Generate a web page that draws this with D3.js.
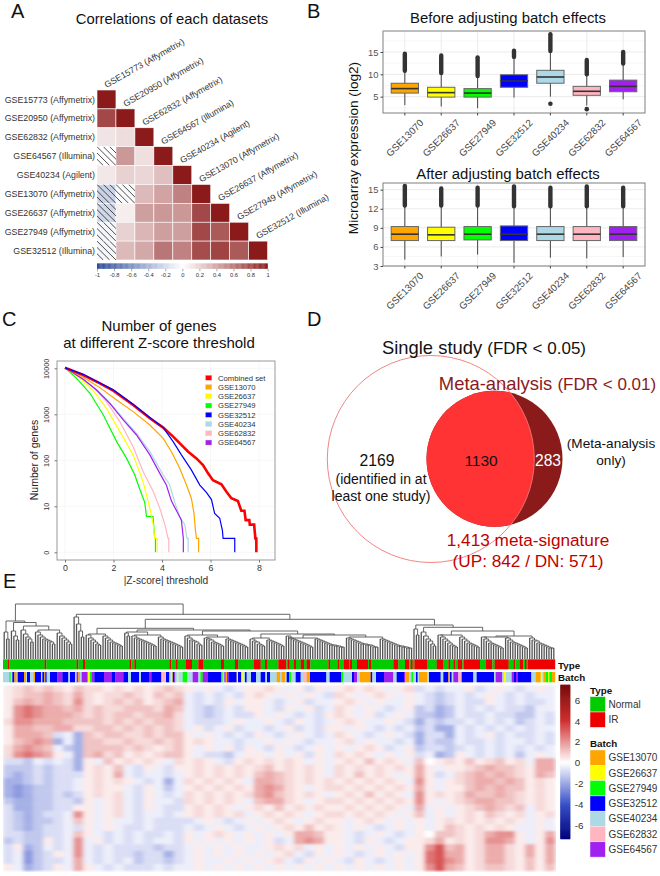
<!DOCTYPE html>
<html><head><meta charset="utf-8">
<script src="https://cdn.jsdelivr.net/npm/d3@7"></script>
<style>html,body{margin:0;padding:0;background:#fff}svg{display:block}text{font-family:"Liberation Sans",Arial,sans-serif}</style>
</head><body><svg id="c" width="660" height="876"></svg>
<script>
// ---------- Panel A data ----------
const corrLabels=["GSE15773 (Affymetrix)","GSE20950 (Affymetrix)","GSE62832 (Affymetrix)","GSE64567 (Illumina)","GSE40234 (Agilent)","GSE13070 (Affymetrix)","GSE26637 (Affymetrix)","GSE27949 (Affymetrix)","GSE32512 (Illumina)"];
const corrValues=[[1],[.8,1],[.12,.15,1],[0,.45,.14,1],[.1,.2,.18,.28,1],[-.25,-.03,.3,.4,.55,1],[-.22,.08,.42,.45,.45,.8,1],[-.05,.2,.32,.42,.42,.8,.72,1],[-.05,.3,.38,.6,.55,.78,.82,.72,1]];
const corrHatched=[[3,0],[5,0],[5,1],[6,0],[7,0],[8,0]];
const corrTicks=[-1,-.8,-.6,-.4,-.2,0,.2,.4,.6,.8,1];
// ---------- Panel B data ----------
const batches=["GSE13070","GSE26637","GSE27949","GSE32512","GSE40234","GSE62832","GSE64567"];
const batchColors=["#ffa500","#ffff00","#00ff00","#0000ff","#add8e6","#ffb6c1","#a020f0"];
const beforeLow=[3.1,2.8,2.4,4.8,5.0,3.0,4.4], beforeQ1=[5.8,4.9,4.9,7.1,8.0,5.3,6.1], beforeMed=[6.8,5.9,5.8,8.5,9.4,6.2,7.3], beforeQ3=[8.0,7.1,6.8,9.9,10.9,7.3,8.7], beforeHigh=[10.8,10.3,9.6,13.9,15.2,10,12.4], beforeTop=[14.6,14.2,13.8,15.3,19,13.2,15];
const beforeLowOutlier=[null,null,null,null,3.4,2.2,null];
const afterLow=[4,4.5,4.8,3.5,4.3,4.2,4.4], afterQ1=[7,7,7.1,7,7,7,7], afterMed=[8,7.9,8,8,8,8,8], afterQ3=[9.2,9.1,9.2,9.3,9.2,9.2,9.2], afterHigh=[12.5,12.5,12.5,12.4,12.4,12.4,12.4], afterTop=[15.6,15.2,15.3,15.5,15.3,15.5,15.3];
// ---------- Panel C data ----------
const curveNames=["Combined set"].concat(batches);
const curveColors=["#ff0000"].concat(batchColors);
const zCombined=[[0,10300],[.75,7160],[1.44,4720],[1.99,3270],[2.81,1596],[3.5,819],[4.05,513],[4.46,327],[4.87,198],[5.08,154],[5.42,110],[5.69,79],[5.9,52],[6.1,37],[6.45,30],[6.65,21],[6.86,15],[7.13,13],[7.27,8],[7.4,8],[7.45,5],[7.6,5],[7.62,4],[7.8,4],[7.82,3],[7.85,2],[7.89,2],[7.89,1]];
const z13070=[[0,10300],[.75,6370],[1.44,3800],[2.13,2050],[2.81,1143],[3.5,586],[4.05,300],[4.39,154],[4.73,67],[5.01,29],[5.21,15],[5.32,7],[5.38,3],[5.42,2],[5.51,2],[5.51,1]];
const z26637=[[0,10300],[.62,6060],[1.17,3270],[1.71,1350],[2.26,420],[2.81,131],[3.22,34],[3.5,9],[3.64,4],[3.7,2],[3.8,2],[3.8,1]];
const z27949=[[0,10300],[.48,6060],[1.03,2860],[1.58,968],[2.13,255],[2.54,110],[2.88,48],[3.02,29],[3.29,12],[3.36,6],[3.63,6],[3.7,2],[3.73,2],[3.73,1]];
const z32512=[[0,10300],[.75,7400],[1.44,4800],[1.99,3400],[2.81,1650],[3.5,850],[4.05,513],[4.46,255],[4.8,131],[5.21,62],[5.56,29],[5.83,20],[6.04,14],[6.17,7],[6.38,5.5],[6.49,3],[6.52,2],[7,2],[7,1]];
const z40234=[[0,10300],[.75,5770],[1.3,3490],[1.85,1790],[2.4,819],[2.95,386],[3.5,154],[4.05,48],[4.32,29],[4.53,12],[4.73,6],[4.94,4],[5.03,2],[5.08,2],[5.08,1]];
const z62832=[[0,10300],[.62,6370],[1.17,3860],[1.71,1890],[2.26,693],[2.81,198],[3.22,57],[3.64,21],[3.91,9],[4.12,4],[4.25,2],[4.28,2],[4.28,1]];
const z64567=[[0,10300],[.75,5770],[1.3,3380],[1.85,1730],[2.4,753],[2.95,355],[3.5,131],[3.91,52],[4.18,29],[4.39,13],[4.6,8],[4.8,5],[4.88,2],[4.88,1]];
const zCurves=[zCombined,z13070,z26637,z27949,z32512,z40234,z62832,z64567];
const zDrawOrder=[3,2,6,5,7,1,0,4];
const zWidths=[2.6,1.2,1.2,1.2,1.2,1.2,1.2,1.2];
// ---------- Panel D data ----------
const vennCounts={single:2169,both:1130,meta:283};
// ---------- Panel E data ----------
const typeNames=["Normal","IR"], typeColors=["#00cc00","#ee0000"];
// sample axis; alternating Normal / IR run ends
const sampleAxisSpan=[9,1665];
const typeBreaks=[24,28,134,139,230,235,249,255,388,394,403,408,508,514,528,533,557,576,595,609,663,672,705,715,762,782,795,801,835,859,863,869,882,888,902,912,920,931,985,990,1013,1017,1032,1047,1050,1056,1071,1104,1107,1113,1180,1195,1215,1228,1232,1238,1243,1281,1310,1329,1345,1350,1360,1365,1373,1387,1392,1440,1458,1477,1484,1526,1540,1546,1559,1570,1575,1580,1584,1665];
const batchCode={O:0,Y:1,G:2,B:3,L:4,P:5,V:6};
const batchBreaks="L28 G32 L37 B43 O50 L53 B72 O78 L81 B90 L100 O105 B123 L127 B133 O136 B140 L150 B172 V187 B205 L210 B225 L230 V235 O240 L245 V263 Y270 G275 V283 B312 V335 B346 V370 B384 L393 B417 L423 B447 V454 B484 P498 B508 L513 Y518 B523 V526 L531 Y535 L548 G562 L578 V595 L601 G608 V624 B663 G668 L673 V677 O681 V686 B710 Y714 B723 L727 Y732 L735 B740 L753 B768 L782 B796 L801 B810 L830 O840 L845 O855 L860 B868 G873 L887 B902 L912 P920 O930 B979 L989 B1024 G1030 L1056 B1062 V1071 L1080 O1112 B1117 L1128 B1152 V1180 L1190 B1212 V1215 O1228 L1234 G1240 L1248 B1253 L1257 O1282 L1287 B1322 L1330 B1345 O1350 B1355 L1360 V1375 P1385 B1420 L1430 B1482 L1487 V1507 L1512 Y1517 L1535 V1542 B1548 V1554 B1594 L1607 O1622 Y1627 L1630 O1638 G1645 Y1648 G1656 O1665".split(" ");
const hmLevels={e:-2.7,d:-2.3,c:-1.8,b:-1.25,a:-.75,"-":-.38,".":0,"+":.38,"1":.72,"2":1.15,"3":1.6,"4":2.1,"5":2.7,"6":3.3};
const heatRows=[
"+12121+2|11+1+1+121|+-+-a-+|+1+-+a+-|+1+1+-+1|a-a-|-+a-+-a-+-",
"+1223213|1+1121+212|-a-a-a+|1+-+-+-a|1+-+1+-+|-aba|-a-+-a-a--",
"+2323214|1+1212+123|-a-a+-+|+-a-+a--|+1+-+--+|-aba|-aa+-a-aa-",
"+4543323|1211222132|-aba-a+|+-a+-+a-|1+-+-a-+|bacb|-a-a-aab--",
"+4543332|1212212231|-aba-aa|+-+-a-a+|1+-+a-+-|bbcb|-aa-aabb-a",
"14433322|2212121221|-aaa-+-|-+-a+-a-|+1+--+-a|caba|a-a-a-ba-a",
"+3322331|1221212121|-+a-+a-|-a-+a-a+|+-+-a-a-|bacc|-a-a-a-a--",
"+3332a-c|2122112122|+-+-a-a|+-a-+-a-|1+-a-+-a|caac|-a-+a-aa-a",
"+2343c-c|2211211212|+1+--a-|-+-+-a--|+1-+--a-|cabb|-aa-a--a-a",
"13432-bc|2222121+12|+-+-+a+|-a+-a-+-|+-+1+a-+|baab|a-a-a-a-a-",
"14543+-c|2312+1+122|+-aab-+|+-+-+a+-|1+1+-+-+|a-cb|+-a-a-b-+-",
"aab-a-ac|+-2+1+1+-1|+1+-a+1|+1+1+-+-|+1+2+1+-|2.+1|+2+12+1-33",
"bbbabaac|+1+2-a+-a+|+1+1+1+|12+1+1+-|1+1+1+1+|3+-+|+123221+33",
"bcbabaaa|+1+3-a--a-|+1+1+1+|2321+1+-|1+2+1+-+|3+a-|1232321+32",
"ccbabaa-|+1+1+-a-c-|1+1+1+-|3321+1+1|+1+1+1+-|4+-+|1233232+1+",
"cdcbbaa-|+1++-a+-b-|+1+1+1+|3431+-+1|1+1+1+1+|3+-+|+232322+1+",
"cdcbbaba|+1+1-a+-a-|1+1+1+1|3421+1+-|+1+2+1+-|4+1+|1322321+1+",
"bccbbaab|+-+1-a+--a|1+1+1+-|2331+-+1|1+1+1+1+|4+-+|1233221+1+",
"accbbaa+|+-+1-a+-aa|+1+1+-+|1+2+1+1+|+1+1+1+-|3-+-|+123212-1+",
"abcbaa-4|+-+1-a--a-|+1+1+1-|+1+1+-+1|1+1+1+-+|2-+-|+1+21+1-+1",
"abcbba-2|+-+--a-aaa|a-+-a-+|-+1+-+1+|+-+1+-+-|+-+1|+1+1+1+-+-",
"abcbaa-a|+-+-aa-aaa|-a-+-a-|+-+1+2+1|+-+-a-+-|+-+2|1+1+1+--+-",
"aabbaa-2|+-a-a-aa-a|+-+1+-+|-+-+332+|+-a-+-a-|+.22|1+1344+-+3",
"babb+a-4|-+a-a-a--a|+-+-+-+|-+a-343+|+-a+-a-+|+13+|1+1443+-+4",
"a+cb-a-4|-a-aaaabaa|-+-+-+-|-+1+1-+-|+-+-+-a+|+462|3+1331+3+3",
"a-dba+-4|-a-aabaaca|-+-+-+-|+-+1-a+-|+-a-+-+-|+563|3+1331+3+3",
"a-dbaa-3|-a-a-baaba|-+--+-+|-+1-a+-+|-a+-a-+-|+564|3+1331+2+3",
"+-cba+-3|+-a-aaa-a-|-+-+-+-|+-+-+-+-|+-+-+-+-|+463|2+1221+2+2"];
const heatTicks=[6,4,2,0,-2,-4,-6];
// dendrogram: [mergeHeight,left,right]; a leaf is 0; a ladder lists merge heights left to right
const lad=h=>h.slice().reverse().reduce((acc,v)=>[v,0,acc],0);
const dendro=[55,
 [38,lad([27,20]),[36.5,lad([28,23,19]),[33,lad([29,25,22,20,17]),[29,lad([27,24,22,20,19,18,17,15]),lad([26,23,21,19,17,15])]]]],
 [44.7,lad([42,35,28,22]),
  [39.7,
   [30.7,[25,lad([24,21,19,17,15,14]),lad([23,21,19,17,16,15,14,13])],
    [29,[27,lad([26,23]),[24,lad([23,21,20,19,18,17,16,15,14,13]),lad([22,20,19,18,17,16,15,14,13,12])]],
     [28,[24,lad([23,21,19,18,17,15,14]),[22,lad([21,20,19,17,16,15,14,13]),lad([20,19,18,17,16,15,14,13,12])]],
      [25,[21,lad([20,18,17,15,14,13]),lad([19,18,17,16,15,14,13])],
       [24,[21,lad([23,21,20,19,18,17,16,15,14,13,12]),lad([20,19,18,17,16,15,14,14,13,13,12,12])],
        [22,lad([21,20,19,18,17,16,15,15,14,14,13,12,12]),lad([20,19,18,17,16,15,14,13,13,12,12,11,11])]]]]]],
   [34,lad([30,24]),
    [31.7,lad([27,23,20,18,15,13]),
     [28,[24,lad([24,22,20,18,16,14,13,12]),lad([22,20,18,16,15,14,13,12])],
      [23,[22,lad([22,20,18,16,15,14,13,12,11]),lad([21,19,17,16,15,14,13,12,11])],
       lad([21,19,18,16,15,14,13,12,11,11])]]]]]]];

// ---------- helpers ----------
const svg=d3.select("#c");
const defs=svg.append("defs");
function T(x,y,s,size,opt={}){const t=svg.append("text").attr("x",x).attr("y",y).attr("font-size",size).attr("text-anchor",opt.a||"start").attr("fill",opt.c||"#111").text(s);
 if(opt.b)t.attr("font-weight","bold"); if(opt.r!==undefined)t.attr("transform",`rotate(${opt.r} ${x} ${y})`); return t;}
T(11,18,"A",20);T(307,17.5,"B",20);T(2,326,"C",20);T(307,326,"D",20);T(3,588,"E",20);

// ---------- Panel A ----------
(function(){
 T(172,24,"Correlations of each datasets",14.8,{a:"middle"});
 const band=d3.scaleBand().domain(d3.range(corrLabels.length));
 const bx=band.copy().range([97,267.6]),by=band.copy().range([90,260]);
 const col=d3.scaleLinear().domain([-1,0,1]).range(["#2a4a9a","#ffffff","#8b1a1a"]);
 corrValues.forEach((row,r)=>row.forEach((v,c)=>{
  svg.append("rect").attr("x",bx(c)).attr("y",by(r)).attr("width",bx.bandwidth()).attr("height",by.bandwidth()).attr("fill",col(v)).attr("stroke","#fff").attr("stroke-width",.6);
 }));
 const bw=bx.bandwidth();
 corrHatched.forEach(([r,c],k)=>{
  defs.append("clipPath").attr("id","hc"+k).append("rect").attr("x",bx(c)).attr("y",by(r)).attr("width",bw).attr("height",by.bandwidth());
  const g=svg.append("g").attr("clip-path",`url(#hc${k})`);
  [-3,-2,-1,0,1,2,3].forEach(o=>g.append("line").attr("x1",bx(c)+o*bw/3).attr("y1",by(r)).attr("x2",bx(c)+o*bw/3+bw).attr("y2",by(r)+by.bandwidth()).attr("stroke","#222").attr("stroke-width",.8));
 });
 corrLabels.forEach((s,i)=>{
  T(95,by(i)+by.bandwidth()/2+3.1,s,8.8,{a:"end",c:"#333"});
  T(bx(i)+9.5,by(i)-2,s,8.8,{c:"#333",r:-29.5});
 });
 const xc=d3.scaleLinear().domain([-1,1]).range([97,267.6]);
 d3.range(-1,1,.01).forEach(v=>svg.append("rect").attr("x",xc(v)).attr("y",263.4).attr("width",1.1).attr("height",5.4).attr("fill",col(v)));
 const g=svg.append("g").attr("transform","translate(0,268.8)").call(d3.axisBottom(xc).tickValues(corrTicks).tickFormat(d3.format("~g")).tickSize(2.5).tickPadding(2));
 g.select(".domain").remove();g.selectAll("line").attr("stroke","#555").attr("stroke-width",.5);
 g.selectAll("text").attr("font-size",5.8).attr("fill","#333").text(d=>String(d));
})();

// ---------- Panel B ----------
function boxPanel(cfg){
 const x=d3.scaleBand().domain(batches).range([383,645]).paddingInner(0).paddingOuter(0.1);
 const y=d3.scaleLinear().domain(cfg.domain).range([cfg.y1,cfg.y0]);
 const g=svg.append("g");
 cfg.minor.forEach(v=>g.append("line").attr("x1",383).attr("x2",645).attr("y1",y(v)).attr("y2",y(v)).attr("stroke","#f2f2f2").attr("stroke-width",.6));
 cfg.ticks.forEach(v=>g.append("line").attr("x1",383).attr("x2",645).attr("y1",y(v)).attr("y2",y(v)).attr("stroke","#ebebeb").attr("stroke-width",1));
 batches.forEach(b=>g.append("line").attr("x1",x(b)+x.bandwidth()/2).attr("x2",x(b)+x.bandwidth()/2).attr("y1",cfg.y0).attr("y2",cfg.y1).attr("stroke","#ebebeb").attr("stroke-width",1));
 const w=x.bandwidth()*.75;
 batches.forEach((b,i)=>{
  const cx=x(b)+x.bandwidth()/2;
  g.append("line").attr("x1",cx).attr("x2",cx).attr("y1",y(cfg.low[i])).attr("y2",y(cfg.high[i])).attr("stroke","#444").attr("stroke-width",1);
  g.append("line").attr("x1",cx).attr("x2",cx).attr("y1",y(cfg.high[i])).attr("y2",y(cfg.top[i])).attr("stroke","#333").attr("stroke-width",4.4).attr("stroke-linecap","round");
  if(cfg.lowOut&&cfg.lowOut[i]!=null)g.append("circle").attr("cx",cx).attr("cy",y(cfg.lowOut[i])).attr("r",2.3).attr("fill","#333");
  g.append("rect").attr("x",cx-w/2).attr("width",w).attr("y",y(cfg.q3[i])).attr("height",y(cfg.q1[i])-y(cfg.q3[i])).attr("fill",batchColors[i]).attr("stroke","#666").attr("stroke-width",1);
  g.append("line").attr("x1",cx-w/2).attr("x2",cx+w/2).attr("y1",y(cfg.med[i])).attr("y2",y(cfg.med[i])).attr("stroke","#333").attr("stroke-width",1.6);
 });
 g.append("rect").attr("x",383).attr("y",cfg.y0).attr("width",262).attr("height",cfg.y1-cfg.y0).attr("fill","none").attr("stroke","#7f7f7f").attr("stroke-width",1);
 if(cfg.lightTop)g.append("line").attr("x1",383).attr("x2",645).attr("y1",cfg.y0).attr("y2",cfg.y0).attr("stroke","#bdbdbd").attr("stroke-width",1.2);
 const ay=svg.append("g").attr("transform","translate(383,0)").call(d3.axisLeft(y).tickValues(cfg.ticks).tickSize(2.5).tickPadding(2));
 ay.select(".domain").remove();ay.selectAll("line").attr("stroke","#444");ay.selectAll("text").attr("font-size",9.4).attr("fill","#555");
 const ax=svg.append("g").attr("transform",`translate(0,${cfg.y1})`).call(d3.axisBottom(x).tickSize(2.5));
 ax.select(".domain").remove();ax.selectAll("line").attr("stroke","#444");
 ax.selectAll("text").attr("font-size",9.8).attr("fill","#444").attr("text-anchor","middle").attr("x",0).attr("y",25).attr("dy","0.35em").attr("transform","rotate(-45 0 25)");
 T(508,cfg.titleY,cfg.title,14.9,{a:"middle"});
}
boxPanel({title:"Before adjusting batch effects",titleY:22.5,y0:31,y1:113,domain:[1.34,19.7],ticks:[5,10,15],minor:[2.5,7.5,12.5,17.5],low:beforeLow,q1:beforeQ1,med:beforeMed,q3:beforeQ3,high:beforeHigh,top:beforeTop,lowOut:beforeLowOutlier,lightTop:true});
boxPanel({title:"After adjusting batch effects",titleY:178.5,y0:183,y1:266,domain:[3,16.05],ticks:[3,6,9,12,15],minor:[4.5,7.5,10.5,13.5],low:afterLow,q1:afterQ1,med:afterMed,q3:afterQ3,high:afterHigh,top:afterTop});
T(358,148,"Microarray expression (log2)",13.6,{a:"middle",r:-90});

// ---------- Panel C ----------
(function(){
 const L=57,R=275,Tp=361,B=560;
 const x=d3.scaleLinear().domain([0,8]).range([65,259]);
 const y=d3.scaleLog().domain([1,10000]).range([552.3,368.3]);
 [0,2,4,6,8].forEach(v=>svg.append("line").attr("x1",x(v)).attr("x2",x(v)).attr("y1",Tp).attr("y2",B).attr("stroke","#f3f3f3").attr("stroke-width",.7));
 [1,10,100,1000,10000].forEach(v=>svg.append("line").attr("x1",L).attr("x2",R).attr("y1",y(v)).attr("y2",y(v)).attr("stroke","#f3f3f3").attr("stroke-width",.7));
 const line=d3.line().x(d=>x(d[0])).y(d=>y(d[1])).curve(d3.curveLinear);
 zDrawOrder.forEach(i=>svg.append("path").attr("d",line(zCurves[i])).attr("fill","none").attr("stroke",curveColors[i]).attr("stroke-width",zWidths[i]));
 svg.append("rect").attr("x",L).attr("y",Tp).attr("width",R-L).attr("height",B-Tp).attr("fill","none").attr("stroke","#999").attr("stroke-width",1);
 const ax=svg.append("g").attr("transform",`translate(0,${B})`).call(d3.axisBottom(x).tickValues([0,2,4,6,8]).tickSize(2.5).tickPadding(2));
 ax.select(".domain").remove();ax.selectAll("line").attr("stroke","#777");ax.selectAll("text").attr("font-size",8.8).attr("fill","#333");
 const ay=svg.append("g").attr("transform",`translate(${L},0)`).call(d3.axisLeft(y).tickValues([1,10,100,1000,10000]).tickFormat(d=>d===1?"0":String(d)).tickSize(2.5));
 ay.select(".domain").remove();ay.selectAll("line").attr("stroke","#777");
 ay.selectAll("text").attr("font-size",7.3).attr("fill","#333").attr("text-anchor","middle").attr("x",0).attr("dy",0).attr("transform","translate(-8.5,0) rotate(-90)");
 T(166,584,"|Z-score| threshold",10.2,{a:"middle",c:"#333"});
 T(37.5,460,"Number of genes",10.5,{a:"middle",r:-90,c:"#222"});
 T(159,331,"Number of genes",15,{a:"middle"});T(159,348,"at different Z-score threshold",15,{a:"middle"});
 curveNames.forEach((s,i)=>{const yy=377.8+i*9.25;
  svg.append("rect").attr("x",205.5).attr("y",yy-2.5).attr("width",6.3).attr("height",5).attr("fill",curveColors[i]).attr("stroke","#ddd").attr("stroke-width",.3);
  T(218,yy+2.7,s,7.7,{c:"#333"});});
})();

// ---------- Panel D ----------
(function(){
 const r=d3.scaleSqrt().domain([0,vennCounts.both+vennCounts.meta]).range([0,68]);
 const R0=r(vennCounts.both+vennCounts.meta);
 const cxM=494.5,cyM=458.7,cxS=430.8,cyS=459,RS=103.5;
 defs.append("clipPath").attr("id","singleClip").append("circle").attr("cx",cxS).attr("cy",cyS).attr("r",RS);
 svg.append("circle").attr("cx",cxM).attr("cy",cyM).attr("r",R0).attr("fill","#8b1a1a");
 svg.append("circle").attr("cx",cxM).attr("cy",cyM).attr("r",R0).attr("fill","#ff3333").attr("clip-path","url(#singleClip)");
 svg.append("circle").attr("cx",cxS).attr("cy",cyS).attr("r",RS).attr("fill","none").attr("stroke","#ee7777").attr("stroke-width",.9);
 const t1=T(484,353.5,"",18.4,{a:"middle"});t1.append("tspan").text("Single study ");t1.append("tspan").attr("font-size",17).text("(FDR < 0.05)");
 const t2=T(547.5,389.5,"",18.4,{a:"middle",c:"#8b1a1a"});t2.append("tspan").text("Meta-analysis ");t2.append("tspan").attr("font-size",17).text("(FDR < 0.01)");
 T(377,465.5,String(vennCounts.single),15.7,{a:"middle"});
 T(381,484,"(identified in at",14,{a:"middle"});T(381,500.5,"least one study)",14,{a:"middle"});
 T(481,465.5,String(vennCounts.both),15.4,{a:"middle"});
 T(548,465.5,String(vennCounts.meta),15.6,{a:"middle",c:"#fff"});
 T(611,448,"(Meta-analysis",13.6,{a:"middle"});T(611,465,"only)",13.6,{a:"middle"});
 T(528,546,"1,413 meta-signature",17.2,{a:"middle",c:"#c00000"});
 T(528,567,"(UP: 842 / DN: 571)",17.2,{a:"middle",c:"#c00000"});
})();

// ---------- Panel E ----------
(function(){
 const X0=3,X1=555;
 // dendrogram
 let n=0;
 const segs=[];
 const yd=d3.scaleLinear().domain([0,55]).range([659,604]);
 function place(node){ if(node===0){return {x:n++,h:0};}
  const l=place(node[1]),r=place(node[2]);const h=node[0];
  segs.push([l.x,l.h,l.x,h],[r.x,r.h,r.x,h],[l.x,h,r.x,h]);
  return {x:(l.x+r.x)/2,h};}
 place(dendro);
 const xd=d3.scaleLinear().domain([-.5,n-.5]).range([X0,X1]);
 svg.append("g").selectAll("line").data(segs).join("line").attr("x1",d=>xd(d[0])).attr("x2",d=>xd(d[2])).attr("y1",d=>yd(d[1])).attr("y2",d=>yd(d[3])).attr("stroke","#555").attr("stroke-width",d=>d[1]===0&&d[0]===d[2]?1.3:.9);
 // annotation bars
 const xs=d3.scaleLinear().domain(sampleAxisSpan).range([X0,X1]);
 let pos=sampleAxisSpan[0];
 typeBreaks.forEach((e,i)=>{svg.append("rect").attr("x",xs(pos)).attr("width",xs(e)-xs(pos)+.2).attr("y",659.3).attr("height",10).attr("fill",typeColors[i%2]);pos=e;});
 pos=sampleAxisSpan[0];
 batchBreaks.forEach(s=>{const e=+s.slice(1);svg.append("rect").attr("x",xs(pos)).attr("width",xs(e)-xs(pos)+.2).attr("y",672).attr("height",10.3).attr("fill",batchColors[batchCode[s[0]]]);pos=e;});
 T(558,669,"Type",9.8,{b:1});T(558,681,"Batch",9.8,{b:1});
 // heatmap
 const col=d3.scaleLinear().domain([-7.4,-4,0,4,7.4]).range(["#00007a","#3850c8","#ffffff","#d03030","#7a0c0c"]);
 const rows=heatRows.map(s=>s.replace(/\|/g,"").split("").map(c=>hmLevels[c]));
 const hx=d3.scaleBand().domain(d3.range(rows[0].length)).range([X0,X1]);
 const hy=d3.scaleBand().domain(d3.range(rows.length)).range([685.3,870.7]);
 defs.append("filter").attr("id","soft").attr("x",0).attr("y",0).attr("width",1).attr("height",1).append("feGaussianBlur").attr("stdDeviation","2.2 1.3").attr("edgeMode","duplicate");
 const hg=svg.append("g").attr("filter","url(#soft)");
 rows.forEach((row,r)=>row.forEach((v,c)=>hg.append("rect").attr("x",hx(c)).attr("y",hy(r)).attr("width",hx.bandwidth()+.4).attr("height",hy.bandwidth()+.4).attr("fill",col(v))));
 // colourbar
 const yc=d3.scaleLinear().domain([7.42,-7.33]).range([685.3,838.7]);
 d3.range(-7.3,7.42,.1).forEach(v=>svg.append("rect").attr("x",560.3).attr("width",10).attr("y",yc(v)-.9).attr("height",1.8).attr("fill",col(v)));
 const ac=svg.append("g").attr("transform","translate(570.3,0)").call(d3.axisRight(yc).tickValues(heatTicks).tickSize(0).tickPadding(4.5).tickFormat(d=>d<0?"-"+Math.abs(d):String(d)));
 ac.select(".domain").remove();ac.selectAll("text").attr("font-size",9.8).attr("fill","#333");
 // legends
 T(590,693.5,"Type",9.8,{b:1});
 typeNames.forEach((s,i)=>{svg.append("rect").attr("x",590).attr("y",696.7+i*15.3).attr("width",15.3).attr("height",15.3).attr("fill",typeColors[i]).attr("stroke","#eee").attr("stroke-width",.5);T(608.5,708+i*15.3,s,10,{c:"#333"});});
 T(590,746.5,"Batch",9.8,{b:1});
 batches.forEach((s,i)=>{svg.append("rect").attr("x",590).attr("y",750+i*15.3).attr("width",15.3).attr("height",15.3).attr("fill",batchColors[i]).attr("stroke","#eee").attr("stroke-width",.5);T(608.5,761.2+i*15.3,s,10,{c:"#333"});});
})();
</script></body></html>
